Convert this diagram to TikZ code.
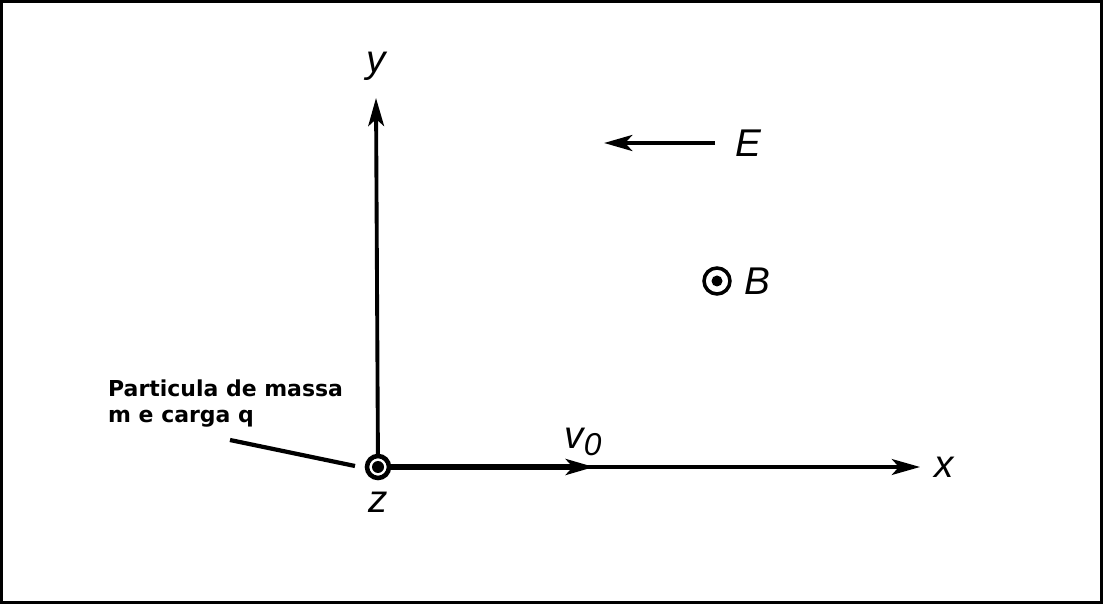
\documentclass[tikz,border=0pt]{standalone}
\usepackage{fontspec}
\setmainfont{DejaVu Sans}
\setsansfont{Liberation Sans}
\usetikzlibrary{arrows.meta}
\tikzset{
  lbl/.style={font=\sffamily\itshape\fontsize{22}{22}\selectfont},
  note/.style={font=\rmfamily\bfseries\fontsize{12.5}{14.5}\selectfont,align=left}
}
\begin{document}
\begin{tikzpicture}[x=0.02cm,y=-0.02cm,>={Stealth[length=16pt,width=9pt,inset=4pt]}]
  \useasboundingbox (0,0) rectangle (1103,604);
  \draw[line width=2pt] (1,1) rectangle (1102,603);
  \coordinate (O) at (378,467);
  % axes
  \draw[->,line width=2.2pt] (O)--(920,467) node[lbl,right=4pt](xl){x};
  \draw[->,line width=2.2pt] (O)--(376,98);
  \node[lbl] (yl) at (376,66) {y};
  \node[lbl] (zl) at (378,502) {z};
  \draw[->,line width=3.4pt] (O)--(594,467);
  \node[lbl] (vl) at (583,442) {v\raisebox{-0.3ex}{\fontsize{18}{18}\selectfont 0}};
  % particle
  \draw[line width=2.6pt,fill=white] (O) circle(11);
  \fill (O) circle(6);
  % fields
  \coordinate (E1) at (715,143);
  \draw[->,line width=2.6pt] (E1)--(604,143);
  \node[lbl,right=8pt] (El) at (E1) {E};
  \coordinate (B) at (717,281);
  \draw[line width=2pt] (B) circle(13);
  \fill (B) circle(5.5);
  \node[lbl,right=12pt] (Bl) at (B) {B};
  % note
  \node[note,anchor=north west] (txt) at (102,374) {Particula de massa\\m e carga q};
  \coordinate (T) at (230,440);
  \draw[line width=2.4pt] (T)--(355,466);
\end{tikzpicture}
\end{document}
